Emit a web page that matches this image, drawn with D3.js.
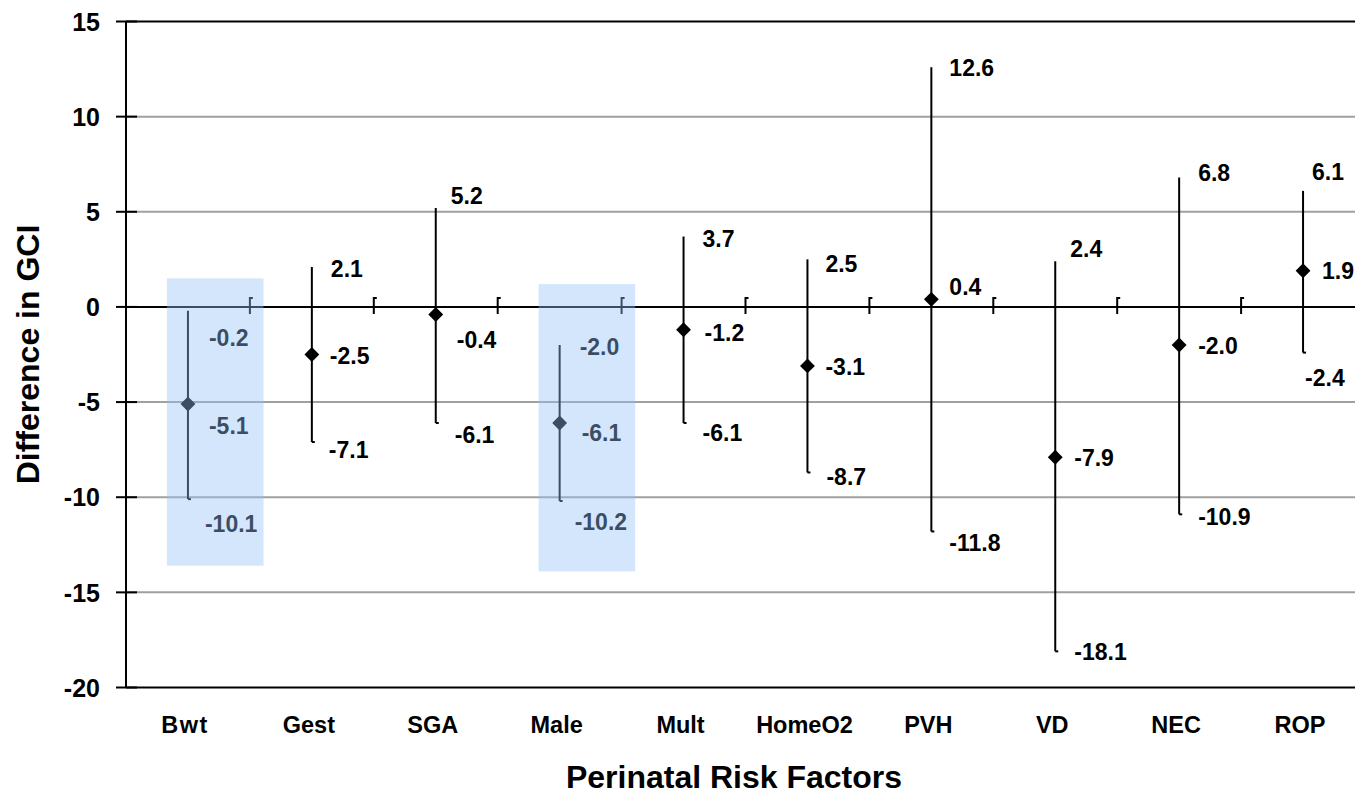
<!DOCTYPE html>
<html>
<head>
<meta charset="utf-8">
<script src="https://cdn.jsdelivr.net/npm/d3@7"></script>
<style>
  html, body { margin: 0; padding: 0; background: #fff; }
  svg { display: block; }
  text { font-family: "Liberation Sans", Arial, sans-serif; font-weight: bold; }
</style>
</head>
<body>
<svg id="chart" width="1355" height="797"></svg>
<script>
// ---- data ----
const categories = ["Bwt", "Gest", "SGA", "Male", "Mult", "HomeO2", "PVH", "VD", "NEC", "ROP"];
const meanValues = [-5.1, -2.5, -0.4, -6.1, -1.2, -3.1, 0.4, -7.9, -2.0, 1.9];
const upperValues = [-0.2, 2.1, 5.2, -2.0, 3.7, 2.5, 12.6, 2.4, 6.8, 6.1];
const lowerValues = [-10.1, -7.1, -6.1, -10.2, -6.1, -8.7, -11.8, -18.1, -10.9, -2.4];
const yTickValues = [15, 10, 5, 0, -5, -10, -15, -20];
const yTickLabels = ["15", "10", "5", "0", "-5", "-10", "-15", "-20"];
const highlightCategories = ["Bwt", "Male"];
const highlightTop = [1.5, 1.2];
const highlightBottom = [-13.6, -13.9];
const yTitle = "Difference in GCI";
const xTitle = "Perinatal Risk Factors";

// ---- layout (label nudges in px) ----
const upperDx = [21, 19, 15, 20, 19, 18, 18, 15, 19, 9];
const upperDy = [27, 2, -12, 2, 2, 4, 1, -13, -5, -19];
const meanDx = [21, 18, 21, 22, 21, 18, 18, 19, 19, 19];
const meanDy = [22, 1, 25, 10, 3, 1, -13, 0, 1, 0];
const lowerDx = [17, 17, 19, 15, 19, 19, 18, 19, 19, 2];
const lowerDy = [25, 8, 12, 21, 10, 4, 11, 0, 2, 25];

(function () {
const svg = d3.select("#chart");
const mLeft = 126, mRight = 1365, mTop = 21.5, mBottom = 687.5;

const x = d3.scaleBand().domain(categories).range([mLeft, mRight]).padding(0);
const y = d3.scaleLinear().domain([-20, 15]).range([mBottom, mTop]);
const cx = c => x(c) + x.bandwidth() / 2;

// gridlines
svg.append("g").selectAll("line").data(yTickValues.filter(v => v !== 0 && v !== 15 && v !== -20))
  .join("line")
  .attr("x1", mLeft).attr("x2", 1355)
  .attr("y1", d => y(d)).attr("y2", d => y(d))
  .attr("stroke", "#a0a0a0").attr("stroke-width", 2);

// top border line
svg.append("line").attr("x1", mLeft).attr("x2", 1355).attr("y1", y(15)).attr("y2", y(15))
  .attr("stroke", "#000").attr("stroke-width", 2);

// y axis
const yAxis = d3.axisLeft(y).tickValues(yTickValues).tickSize(0)
  .tickFormat((d, i) => yTickLabels[i]);
const gy = svg.append("g").attr("transform", `translate(${mLeft},0)`).call(yAxis);
gy.select(".domain").remove();
gy.selectAll("text").attr("x", -26).attr("dy", "0.35em")
  .style("font-size", "25px").style("font-family", '"Liberation Sans", Arial, sans-serif')
  .style("font-weight", "bold").attr("fill", "#000");
svg.append("g").selectAll("line").data(yTickValues).join("line")
  .attr("x1", mLeft - 10).attr("x2", mLeft + 11)
  .attr("y1", d => y(d)).attr("y2", d => y(d))
  .attr("stroke", "#000").attr("stroke-width", 2);
svg.append("line").attr("x1", mLeft).attr("x2", mLeft).attr("y1", y(15)).attr("y2", y(-20))
  .attr("stroke", "#000").attr("stroke-width", 2);

// bottom axis line
svg.append("line").attr("x1", mLeft).attr("x2", 1355).attr("y1", y(-20)).attr("y2", y(-20))
  .attr("stroke", "#000").attr("stroke-width", 2);

// zero line with category ticks
svg.append("line").attr("x1", mLeft).attr("x2", 1355).attr("y1", y(0)).attr("y2", y(0))
  .attr("stroke", "#000").attr("stroke-width", 2);
const tickG = svg.append("g");
categories.slice(1).forEach(c => {
  const tx = x(c);
  tickG.append("path")
    .attr("d", `M${tx + 3},${y(0) - 9} L${tx},${y(0) - 9} L${tx},${y(0) + 7}`)
    .attr("fill", "none").attr("stroke", "#000").attr("stroke-width", 2);
});

// category labels
svg.append("g").selectAll("text").data(categories).join("text")
  .attr("x", d => cx(d) - 3).attr("y", 733)
  .attr("text-anchor", "middle")
  .style("font-size", "23.5px")
  .style("letter-spacing", d => d === "Bwt" ? "1.5px" : "0px")
  .text(d => d);

// error bars
const bars = svg.append("g");
categories.forEach((c, i) => {
  const px = cx(c);
  bars.append("line")
    .attr("x1", px).attr("x2", px)
    .attr("y1", y(upperValues[i])).attr("y2", y(lowerValues[i]))
    .attr("stroke", "#000").attr("stroke-width", 2);
  bars.append("line")
    .attr("x1", px).attr("x2", px + 3)
    .attr("y1", y(lowerValues[i])).attr("y2", y(lowerValues[i]))
    .attr("stroke", "#000").attr("stroke-width", 2);
});

// diamonds
svg.append("g").selectAll("path").data(categories).join("path")
  .attr("d", d3.symbol().type(d3.symbolSquare).size(110))
  .attr("transform", (d, i) => `translate(${cx(d)},${y(meanValues[i])}) rotate(45)`)
  .attr("fill", "#000");

// data labels
const lbl = svg.append("g").style("font-size", "23px");
categories.forEach((c, i) => {
  const px = cx(c);
  lbl.append("text").attr("x", px + upperDx[i]).attr("y", y(upperValues[i]) + upperDy[i])
    .attr("dy", "0.36em").text(upperValues[i].toFixed(1));
  lbl.append("text").attr("x", px + meanDx[i]).attr("y", y(meanValues[i]) + meanDy[i])
    .attr("dy", "0.36em").text(meanValues[i].toFixed(1));
  lbl.append("text").attr("x", px + lowerDx[i]).attr("y", y(lowerValues[i]) + lowerDy[i])
    .attr("dy", "0.36em").text(lowerValues[i].toFixed(1));
});

// translucent highlight boxes (on top)
highlightCategories.forEach((c, i) => {
  svg.append("rect")
    .attr("x", x(c) + x.bandwidth() * 0.33)
    .attr("width", x.bandwidth() * 0.78)
    .attr("y", y(highlightTop[i]))
    .attr("height", y(highlightBottom[i]) - y(highlightTop[i]))
    .attr("fill", "rgb(148,193,247)").attr("fill-opacity", 0.4);
});

// axis titles
svg.append("text")
  .attr("transform", `translate(39,${(mTop + mBottom) / 2}) rotate(-90)`)
  .attr("text-anchor", "middle")
  .style("font-size", "32px")
  .text(yTitle);
svg.append("text")
  .attr("x", 734).attr("y", 788)
  .attr("text-anchor", "middle")
  .style("font-size", "32px")
  .text(xTitle);
})();
</script>
</body>
</html>
